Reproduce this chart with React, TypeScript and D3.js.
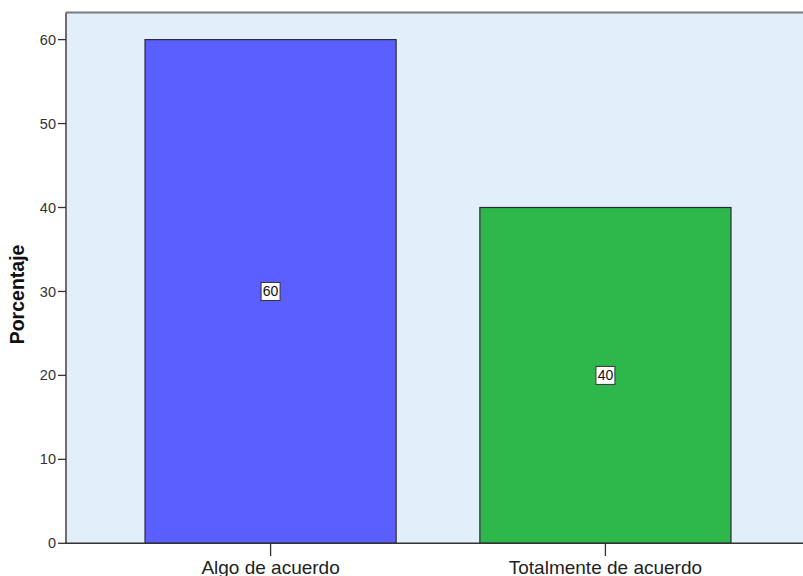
import React from "react";
import * as d3 from "d3";

// Response categories and their percentages
const categories: string[] = ["Algo de acuerdo", "Totalmente de acuerdo"];
const percentages: number[] = [60, 40];
const barColors: string[] = ["#5b5fff", "#2eb84b"];
const yTicks: number[] = [0, 10, 20, 30, 40, 50, 60];
const yAxisTitle = "Porcentaje";

const W = 803;
const H = 576;
const plotLeft = 66;
const plotTop = 12.5;
const plotBottom = 543.3;
const plotRight = 810;

export default function App() {
  const y = d3.scaleLinear().domain([0, 60]).range([plotBottom, 39.6]);
  const x = d3
    .scaleBand<string>()
    .domain(categories)
    .range([plotLeft, plotRight])
    .paddingInner(0.25)
    .paddingOuter(0.236);

  const font = "'Liberation Sans', Arial, sans-serif";

  return (
    <svg
      width={W}
      height={H}
      style={{ position: "absolute", left: 0, top: 0, display: "block" }}
      fontFamily={font}
    >
      <rect x={0} y={0} width={W} height={H} fill="#ffffff" />
      {/* plot background */}
      <rect
        x={plotLeft}
        y={plotTop}
        width={plotRight - plotLeft}
        height={plotBottom - plotTop}
        fill="#e2eefa"
      />
      {/* bars */}
      {categories.map((c, i) => (
        <rect
          key={c}
          x={x(c)!}
          y={y(percentages[i])}
          width={x.bandwidth()}
          height={plotBottom - y(percentages[i])}
          fill={barColors[i]}
          stroke="#2a2a3a"
          strokeWidth={1.2}
        />
      ))}
      {/* frame */}
      <line x1={plotLeft} x2={plotRight} y1={plotTop} y2={plotTop} stroke="#7a7a7a" strokeWidth={2} />
      <line x1={plotLeft} x2={plotLeft} y1={plotTop} y2={plotBottom} stroke="#6e6e6e" strokeWidth={2} />
      <line x1={plotLeft - 1} x2={plotRight} y1={plotBottom} y2={plotBottom} stroke="#333333" strokeWidth={1.6} />
      {/* y ticks */}
      {yTicks.map((t) => (
        <g key={t}>
          <line x1={58} x2={plotLeft} y1={y(t)} y2={y(t)} stroke="#333333" strokeWidth={1.3} />
          <text
            x={56}
            y={y(t)}
            dy="0.35em"
            textAnchor="end"
            fontSize={14.5}
            fill="#333333"
          >
            {t}
          </text>
        </g>
      ))}
      {/* x ticks and labels */}
      {categories.map((c) => {
        const cx = x(c)! + x.bandwidth() / 2;
        return (
          <g key={c}>
            <line x1={cx} x2={cx} y1={plotBottom} y2={556} stroke="#333333" strokeWidth={1.3} />
            <text x={cx} y={574} textAnchor="middle" fontSize={19} fill="#222222">
              {c}
            </text>
          </g>
        );
      })}
      {/* value labels */}
      {categories.map((c, i) => {
        const cx = x(c)! + x.bandwidth() / 2;
        const cy = y(percentages[i] / 2);
        return (
          <g key={c + "-lbl"}>
            <rect
              x={cx - 9.5}
              y={cy - 9}
              width={19}
              height={18}
              fill="#ffffff"
              stroke="#333333"
              strokeWidth={1}
            />
            <text x={cx} y={cy} dy="0.36em" textAnchor="middle" fontSize={14} fill="#111111">
              {percentages[i]}
            </text>
          </g>
        );
      })}
      {/* y axis title */}
      <text
        transform={`translate(24,${(y(0) + y(60)) / 2 + 3}) rotate(-90)`}
        textAnchor="middle"
        fontSize={19.5}
        fontWeight="bold"
        fill="#111111"
      >
        {yAxisTitle}
      </text>
    </svg>
  );
}
